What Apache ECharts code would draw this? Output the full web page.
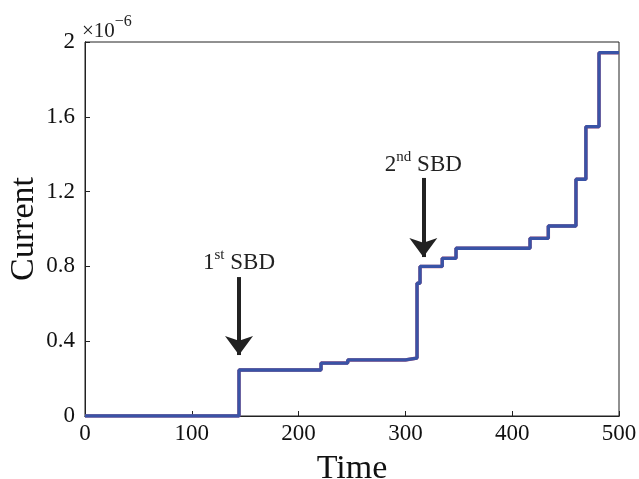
<!DOCTYPE html>
<html><head><meta charset="utf-8">
<script src="https://cdn.jsdelivr.net/npm/echarts@6/dist/echarts.min.js"></script>
<style>html,body{margin:0;padding:0;background:#fff}#c{width:639px;height:479px}</style>
</head><body><div id="c"></div>
<script>
// Data (current in units of 1e-6)
const stepTimes   = [0, 144.2, 221, 246, 300, 310.9, 313.7, 334.5, 347.4, 416.7, 433.8, 459.7, 469, 481.3, 500];
const stepCurrent = [0, 0.246, 0.283, 0.300, 0.310, 0.71, 0.80, 0.843, 0.897, 0.95, 1.016, 1.266, 1.547, 1.943, 1.943];
const xTicks = [0, 100, 200, 300, 400, 500];
const yTicks = [0, 0.4, 0.8, 1.2, 1.6, 2];
const xTitle = 'Time';
const yTitle = 'Current';
// Annotations: [x, yStart, yEnd]
const arrow1 = [144.2, 0.743, 0.326];
const arrow2 = [316.8, 1.273, 0.850];
const label1 = {x: 144.2, y: 0.829, ord: '1', sup: 'st'};
const label2 = {x: 316.8, y: 1.353, ord: '2', sup: 'nd'};

const FONT = 'Liberation Serif';
const pairs = stepTimes.map((t, i) => [t, stepCurrent[i]]);
const chart = echarts.init(document.getElementById('c'));

function arrowLine(a) {
  return [[{coord: [a[0], a[1]]}, {coord: [a[0], a[2]]}]];
}
function labelPoint(l) {
  return {
    coord: [l.x, l.y], symbolSize: 0,
    label: {show: true, position: 'inside',
      formatter: '{a|' + l.ord + '}{s|' + l.sup + '}{a| SBD}',
      rich: {a: {fontFamily: FONT, fontSize: 23, color: '#222', verticalAlign: 'bottom', lineHeight: 26},
             s: {fontFamily: FONT, fontSize: 15, color: '#222', verticalAlign: 'top', lineHeight: 26}}}
  };
}
const tickStyle = {show: true, inside: true, length: 5, lineStyle: {color: '#222'}};
const lineStyle = {show: true, lineStyle: {color: '#222', width: 1}};

chart.setOption({
  animation: false,
  grid: {left: 85, right: 20, top: 42, bottom: 63, containLabel: false, outerBoundsMode: 'none',
         show: true, borderColor: '#222', borderWidth: 1},
  xAxis: [{
    type: 'value', min: 0, max: 500, interval: 100,
    name: xTitle, nameLocation: 'middle', nameGap: 36,
    nameTextStyle: {fontFamily: FONT, fontSize: 34, color: '#111'},
    axisLine: lineStyle, axisTick: tickStyle,
    axisLabel: {fontFamily: FONT, fontSize: 23, color: '#111', margin: 6},
    splitLine: {show: false}
  }, {
    type: 'value', min: 0, max: 500, interval: 100, position: 'top',
    axisLine: lineStyle, axisTick: {show: false},
    axisLabel: {show: false}, splitLine: {show: false}
  }],
  yAxis: [{
    type: 'value', min: 0, max: 2, interval: 0.4,
    axisLine: lineStyle, axisTick: tickStyle,
    axisLabel: {fontFamily: FONT, fontSize: 23, color: '#111', margin: 10,
      formatter: v => (Math.round(v * 10) / 10).toString()},
    splitLine: {show: false}
  }, {
    type: 'value', min: 0, max: 2, interval: 0.4, position: 'right',
    axisLine: lineStyle, axisTick: {show: false},
    axisLabel: {show: false}, splitLine: {show: false}
  }],
  series: [{
    type: 'line', step: 'end', data: pairs, showSymbol: false,
    lineStyle: {color: '#b8587a', width: 3.5}, z: 2
  }, {
    type: 'line', step: 'end', data: pairs, showSymbol: false,
    lineStyle: {color: '#3953a6', width: 3.3}, z: 3,
    markLine: {
      silent: true, symbol: ['none', 'arrow'], symbolSize: [21, 19],
      lineStyle: {color: '#222', width: 4, type: 'solid'},
      label: {show: false},
      data: arrowLine(arrow1).concat(arrowLine(arrow2))
    },
    markPoint: {silent: true, data: [labelPoint(label1), labelPoint(label2)]}
  }],
  graphic: [{
    type: 'text', left: 82, top: 14,
    style: {text: '{a|×10}{s|−6}',
      rich: {a: {fontFamily: FONT, fontSize: 21, fill: '#222', verticalAlign: 'bottom', lineHeight: 28},
             s: {fontFamily: FONT, fontSize: 16, fill: '#222', verticalAlign: 'top', lineHeight: 28}}}
  }, {
    type: 'text', x: 24, y: 229, rotation: Math.PI / 2,
    style: {text: yTitle, fontFamily: FONT, fontSize: 34, fill: '#111',
            align: 'center', verticalAlign: 'middle'}
  }]
});
</script></body></html>
